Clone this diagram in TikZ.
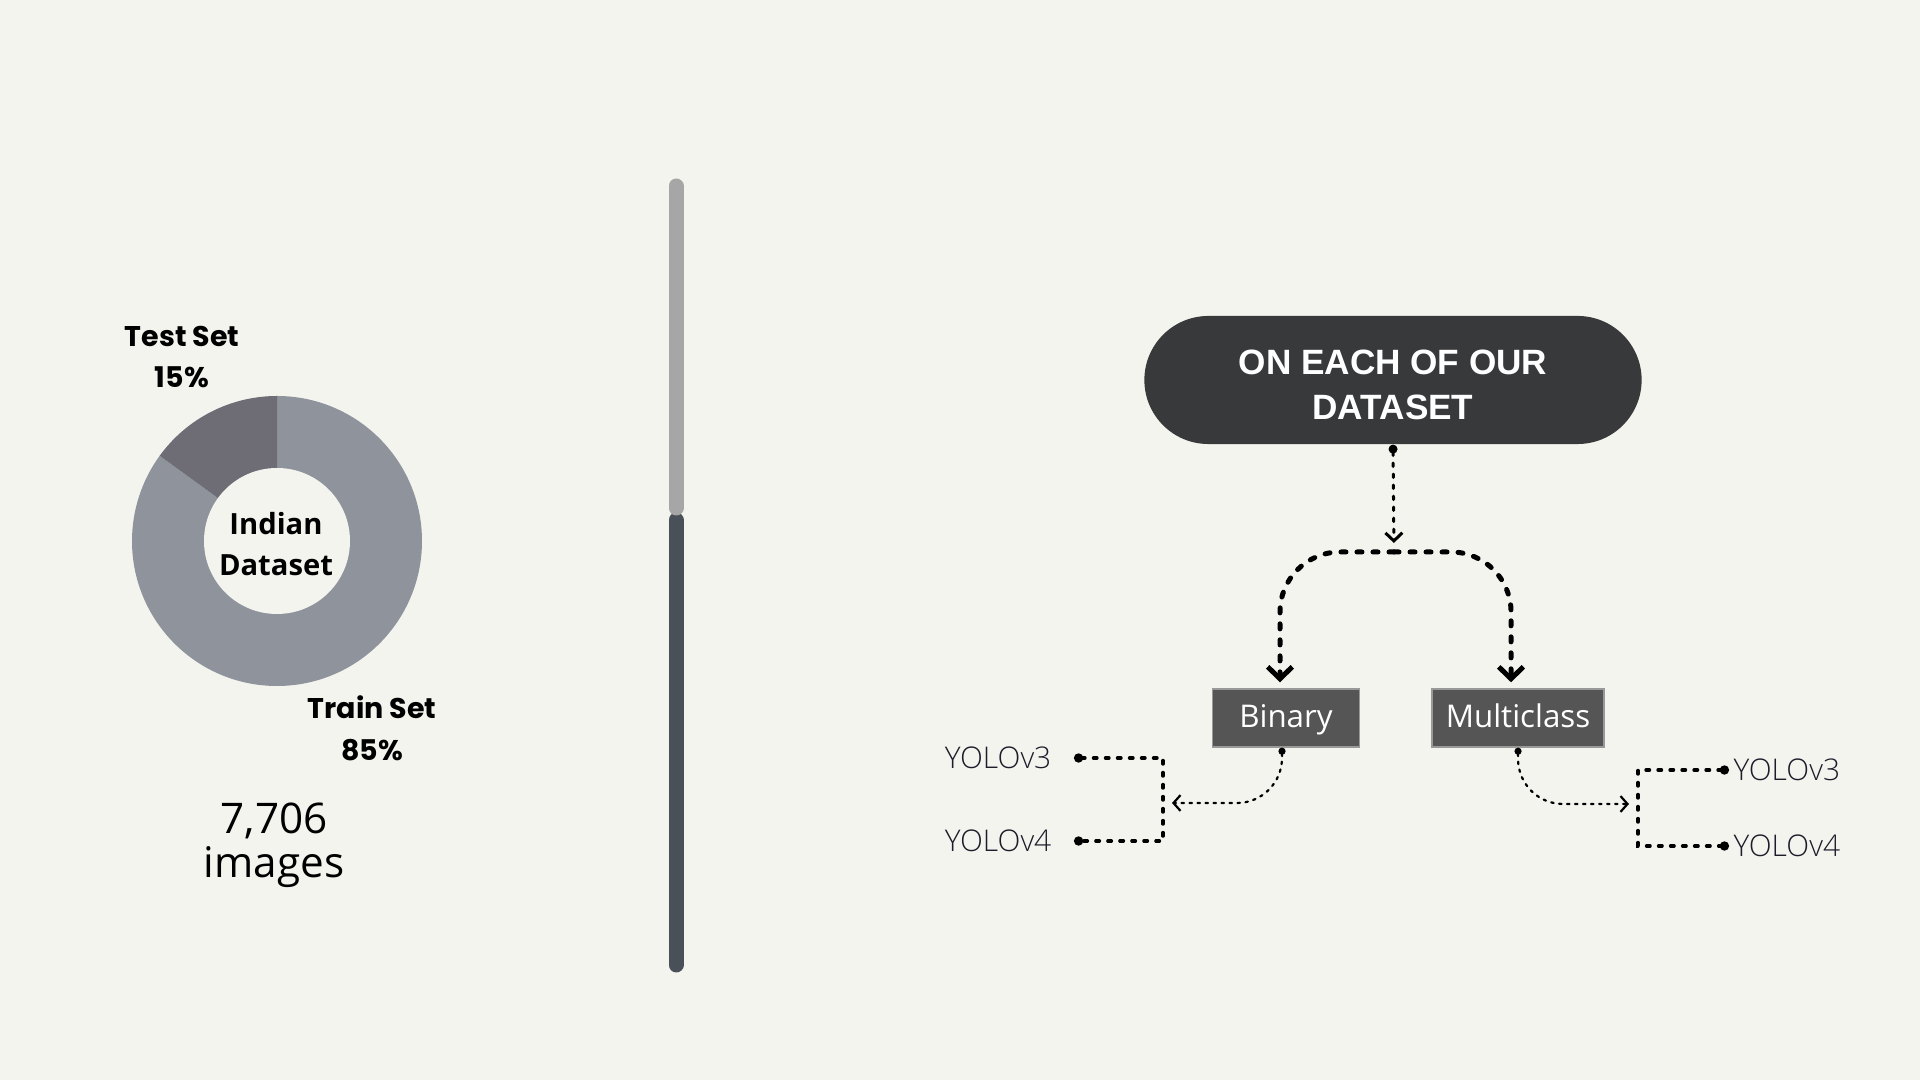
\documentclass[tikz,border=0pt]{standalone}
\usepackage{fontspec}
\setmainfont{Open Sans}
\newfontfamily\spartanfont{Poppins}
\newfontfamily\headfont{Liberation Sans}
\newfontfamily\lightfont{Open Sans Light}
\usetikzlibrary{positioning, arrows.meta}
\definecolor{slidebg}{HTML}{F4F4EF}
\definecolor{trainc}{HTML}{8E939C}
\definecolor{testc}{HTML}{6E6C75}
\definecolor{barlight}{HTML}{A6A6A6}
\definecolor{bardark}{HTML}{4A5057}
\definecolor{pillc}{HTML}{38393B}
\definecolor{boxc}{HTML}{555555}
\definecolor{yolotxt}{HTML}{1C1C2A}

\begin{document}
\begin{tikzpicture}[x=0.01cm, y=0.01cm,
    node distance=0.3cm and 0.71cm,
    pill/.style={fill=pillc, rounded corners=0.64cm, minimum width=4.97cm, minimum height=1.28cm, text=white, font=\headfont\bfseries\fontsize{10}{12.8}\selectfont, align=center},
    box/.style={fill=boxc, draw=gray!80, line width=0.4pt, text=white, font=\fontsize{8.9}{10}\selectfont, minimum height=0.58cm, minimum width=1.47cm, inner sep=0pt, text height=0.72em, text depth=0.16em},
    slice/.style={font=\spartanfont\bfseries\fontsize{8.1}{11.9}\selectfont, align=center},
    yolo/.style={text=yolotxt, font=\lightfont\fontsize{8.5}{10}\selectfont, inner sep=0pt},
    fork/.style={line width=0.05cm, dash pattern=on 0.05cm off 0.11cm, line cap=round, rounded corners=0.6cm, -{Straight Barb[length=3.4pt, width=7pt]}, shorten >=0.06cm},
    link/.style={line width=0.03cm, dash pattern=on 0.035cm off 0.075cm, line cap=round, {Circle[length=2.5pt]}-{Straight Barb[length=2.3pt, width=4.8pt]}},
    boxlink/.style={line width=0.022cm, dash pattern=on 0.025cm off 0.055cm, line cap=round, rounded corners=0.45cm, {Circle[length=2pt]}-{Straight Barb[length=2pt, width=4.5pt]}, shorten >=0.09cm},
    bracket/.style={line width=0.034cm, dash pattern=on 0.035cm off 0.085cm, line cap=round, {Circle[length=2.6pt]}-{Circle[length=2.6pt]}}
  ]
    % background
    \fill[slidebg] (0,0) rectangle (1920,-1080);

    % donut chart
    \coordinate (donut) at (277,-541);
    \fill[trainc] (donut) -- ++(90:145) arc[start angle=90, end angle=-216, radius=145] -- cycle;
    \fill[testc] (donut) -- ++(90:145) arc[start angle=90, end angle=144, radius=145] -- cycle;
    \fill[slidebg] (donut) circle[radius=73];
    \node[font=\bfseries\fontsize{8.3}{11.9}\selectfont, align=center] (centre) at (276,-544) {Indian\\Dataset};
    \node[slice] (test) at (182,-357) {Test Set\\15\%};
    \node[slice] (train) at (372,-728) {Train Set\\85\%};
    \node[font=\fontsize{12}{12.5}\selectfont, align=center] (count) at (274,-845) {7,706\\images};

    % divider
    \draw[bardark, line width=0.15cm, line cap=round] (676,-520) -- (676,-965);
    \draw[barlight, line width=0.15cm, line cap=round] (676,-186) -- (676,-508);

    % tree
    \node[pill] (pill) at (1393,-380) {\rule{0pt}{9.5pt}ON EACH OF OUR\\DATASET};
    \node[box] (binary) at (1286,-718) {Binary};
    \node[box, minimum width=1.72cm, right=of binary] (multi) {Multiclass};
    \coordinate (fork) at (1394,-552);
    \draw[link, shorten >=0.09cm] (pill.south) -- (fork);
    \draw[fork] (fork) -| ([xshift=-0.06cm]binary.north);
    \draw[fork] (fork) -| ([xshift=-0.07cm]multi.north);

    \node[yolo, anchor=east] (yl3) at (1052,-758) {YOLOv3};
    \node[yolo, anchor=east] (yl4) at (1052,-841) {YOLOv4};
    \node[yolo, anchor=west] (yr3) at (1733,-770) {YOLOv3};
    \node[yolo, anchor=west] (yr4) at (1733,-846) {YOLOv4};
    \coordinate (lbar) at (1163,-803);
    \coordinate (rbar) at (1638,-804);
    \draw[bracket] ([xshift=0.22cm]yl3.east) -| (lbar) |- ([xshift=0.22cm]yl4.east);
    \draw[bracket] ([xshift=-0.04cm]yr3.west) -| (rbar) |- ([xshift=-0.04cm]yr4.west);
    \draw[boxlink] ([xshift=-0.04cm]binary.south) |- (lbar);
    \draw[boxlink] (multi.south) |- (rbar);
  \end{tikzpicture}
\end{document}
